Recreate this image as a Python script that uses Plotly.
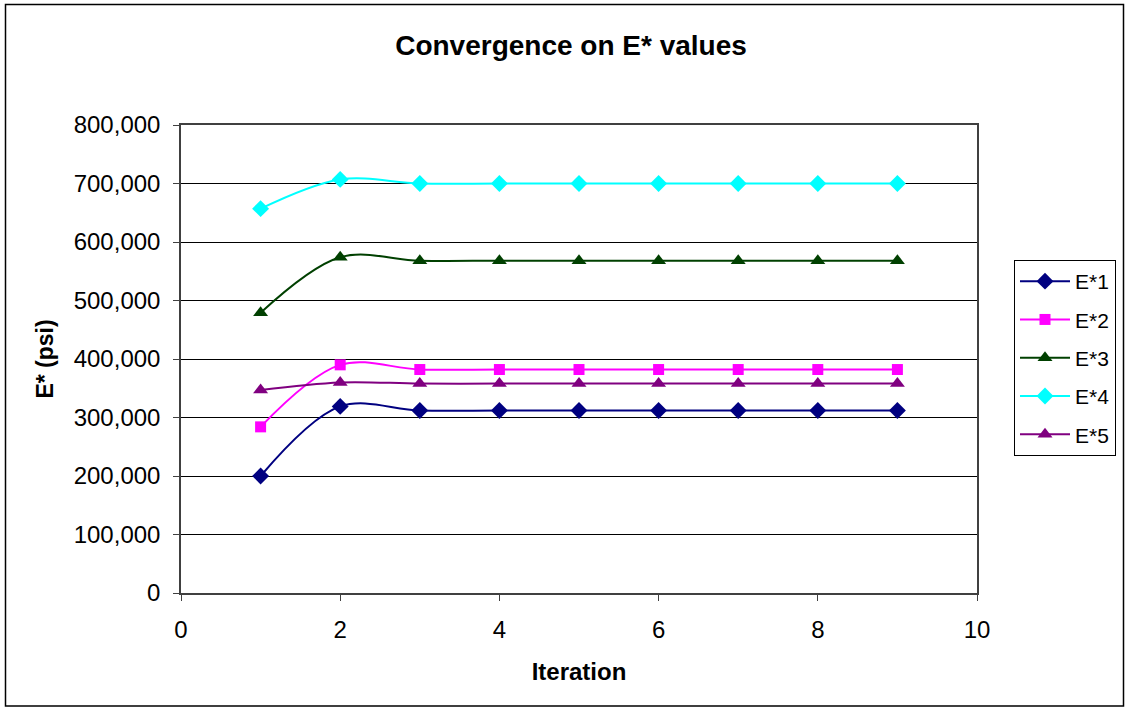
import plotly.graph_objects as go

iterations = [1, 2, 3, 4, 5, 6, 7, 8, 9]
e1 = [200000, 319000, 312000, 312000, 312000, 312000, 312000, 312000, 312000]
e2 = [284000, 390000, 382000, 382000, 382000, 382000, 382000, 382000, 382000]
e3 = [479000, 574000, 568000, 568000, 568000, 568000, 568000, 568000, 568000]
e4 = [657000, 707000, 700000, 700000, 700000, 700000, 700000, 700000, 700000]
e5 = [347000, 360000, 358000, 358000, 358000, 358000, 358000, 358000, 358000]

series_names = ["E*1", "E*2", "E*3", "E*4", "E*5"]
series_values = [e1, e2, e3, e4, e5]
colors = ["#000080", "#FF00FF", "#004000", "#00FFFF", "#800080"]
symbols = ["diamond", "square", "triangle-up", "diamond", "triangle-up"]
msizes = [13, 11, 13, 13, 13]

FONT = "Liberation Sans, Arial, sans-serif"

fig = go.Figure()
for name, vals, c, s, ms in zip(series_names, series_values, colors, symbols, msizes):
    fig.add_trace(go.Scatter(
        x=iterations, y=vals, name=name, mode="lines+markers",
        line=dict(color=c, width=2, shape="spline", smoothing=1),
        marker=dict(symbol=s, size=ms, color=c),
        legendgroup=name,
    ))

fig.update_layout(
    width=1125, height=708,
    margin=dict(l=181, r=148, t=125, b=115, autoexpand=False),
    paper_bgcolor="white", plot_bgcolor="white",
    font=dict(family=FONT, color="black", size=24),
    title=dict(text="<b>Convergence on E* values</b>", xref="container", yref="container",
               x=571 / 1125, y=1 - 45 / 708, xanchor="center", yanchor="middle",
               font=dict(size=28, family=FONT, color="black")),
    showlegend=True,
    legend=dict(x=(1014 - 181) / 796, y=(593 - 260) / 468, xanchor="left", yanchor="top",
                bordercolor="black", borderwidth=1, bgcolor="white",
                font=dict(size=21, family=FONT), tracegroupgap=8, traceorder="grouped",
                itemwidth=50),
    xaxis=dict(range=[0, 10], dtick=2, tick0=0, showgrid=False, zeroline=False,
               showline=True, linecolor="#404040", linewidth=1.5, mirror=True,
               ticks="outside", ticklen=6, tickcolor="#404040",
               ticklabelstandoff=8,
               title=dict(text="<b>Iteration</b>", font=dict(size=24), standoff=22)),
    yaxis=dict(range=[0, 800000], dtick=100000, tick0=0, tickformat=",",
               showgrid=True, gridcolor="#000000", gridwidth=1, zeroline=False,
               showline=True, linecolor="#404040", linewidth=1.5, mirror=True,
               ticks="outside", ticklen=6, tickcolor="#404040",
               ticklabelstandoff=8,
               title=dict(text="<b>E* (psi)</b>", font=dict(size=23), standoff=14)),
    shapes=[dict(type="rect", xref="paper", yref="paper",
                 x0=(5.5 - 181) / 796, x1=(1123.5 - 181) / 796,
                 y0=(593 - 706) / 468, y1=(593 - 4.5) / 468,
                 line=dict(color="black", width=1.5), fillcolor="rgba(0,0,0,0)", layer="below")],
)

fig.write_html("out.html")
